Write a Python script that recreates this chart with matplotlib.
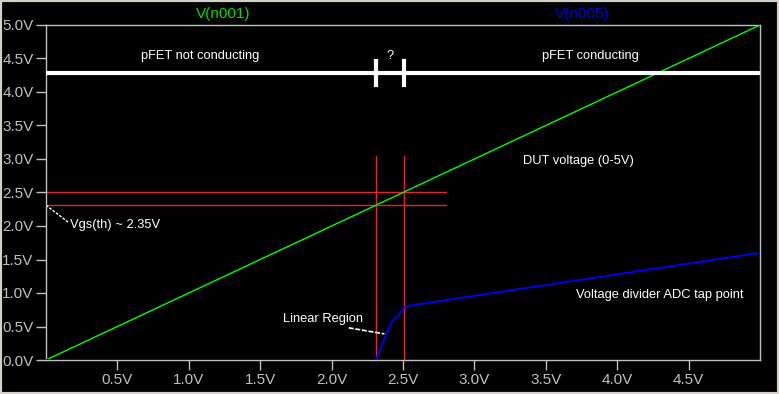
#!/usr/bin/env python3
# -*- coding: utf-8 -*-

import matplotlib
matplotlib.use('Agg')
import matplotlib.pyplot as plt
from matplotlib.patches import Rectangle

plt.rcParams['font.family'] = ['Liberation Sans', 'DejaVu Sans']

# sweep (V) and node voltages
v_sweep = [0.0, 5.0]
v_n001 = [0.0, 5.0]

v_adc_x = [0.0, 2.31, 2.38, 2.42, 2.47, 2.505, 2.54, 5.0]
v_adc_y = [0.0, 0.0, 0.37, 0.57, 0.67, 0.78, 0.81, 1.6]

x_ticks = [0.5, 1.0, 1.5, 2.0, 2.5, 3.0, 3.5, 4.0, 4.5]
y_ticks = [0.0, 0.5, 1.0, 1.5, 2.0, 2.5, 3.0, 3.5, 4.0, 4.5, 5.0]

vgs_th = 2.31
v_on = 2.51
cursor_top = 3.05
cursor_right = 2.8
region_bar = 4.28

grey = '#c0c0c0'
red = '#e02828'

fig = plt.figure(figsize=(7.79, 3.94), dpi=100, facecolor='black')
ax = fig.add_axes([46 / 779, 34 / 394, 714 / 779, 335 / 394], facecolor='black')

ax.plot(v_sweep, v_n001, color='#00ff00', lw=1, zorder=3)
ax.plot(v_adc_x, v_adc_y, color='#0000ff', lw=1.3, zorder=3)

# cursors
for xv in [vgs_th, v_on]:
        ax.plot([xv, xv], [0, cursor_top], color=red, lw=1, zorder=2)
for yv in [vgs_th, v_on]:
        ax.plot([0, cursor_right], [yv, yv], color=red, lw=1, zorder=2)

# conduction region bar
ax.plot([0, 5.0], [region_bar, region_bar], color='white', lw=3, zorder=4)
for xv in [vgs_th, v_on]:
        ax.plot([xv, xv], [region_bar - 0.18, region_bar + 0.18], color='white', lw=3, zorder=4)

txt = dict(color='white', fontsize=9.3)
ax.text(1.08, 4.53, 'pFET not conducting', ha='center', va='center', **txt)
ax.text(2.41, 4.53, '?', ha='center', va='center', **txt)
ax.text(3.81, 4.53, 'pFET conducting', ha='center', va='center', **txt)
ax.text(3.73, 2.97, 'DUT voltage (0-5V)', ha='center', va='center', **txt)
ax.text(0.17, 2.02, 'Vgs(th) ~ 2.35V', ha='left', va='center', **txt)
ax.text(1.66, 0.61, 'Linear Region', ha='left', va='center', **txt)
ax.text(3.71, 0.97, 'Voltage divider ADC tap point', ha='left', va='center', **txt)

ax.plot([0, 0.16], [2.31, 2.05], color='white', lw=1, ls=(0, (2, 1)))
ax.plot([2.12, 2.37], [0.48, 0.39], color='white', lw=1.2, ls=(0, (3, 1)))

ax.set_xlim(0, 5.0)
ax.set_ylim(0, 5.0)
ax.set_xticks(x_ticks)
ax.set_xticklabels(['%.1fV' % t for t in x_ticks])
ax.set_yticks(y_ticks)
ax.set_yticklabels(['%.1fV' % t for t in y_ticks])
ax.tick_params(colors=grey, labelsize=11, length=7, width=1, pad=2)
for s in ax.spines.values():
        s.set_color(grey)
        s.set_linewidth(1)

fig.text(223 / 779, 1 - 14 / 394, 'V(n001)', color='#00dd00', fontsize=11, ha='center', va='center')
fig.text(582 / 779, 1 - 14 / 394, 'V(n005)', color='#0000e0', fontsize=11, ha='center', va='center')

# window border
fig.patches.append(Rectangle((0, 0), 1, 1, transform=fig.transFigure, fill=False,
                             edgecolor='#d4d0c8', lw=3))

fig.savefig('out.png', dpi=100, facecolor='black')
